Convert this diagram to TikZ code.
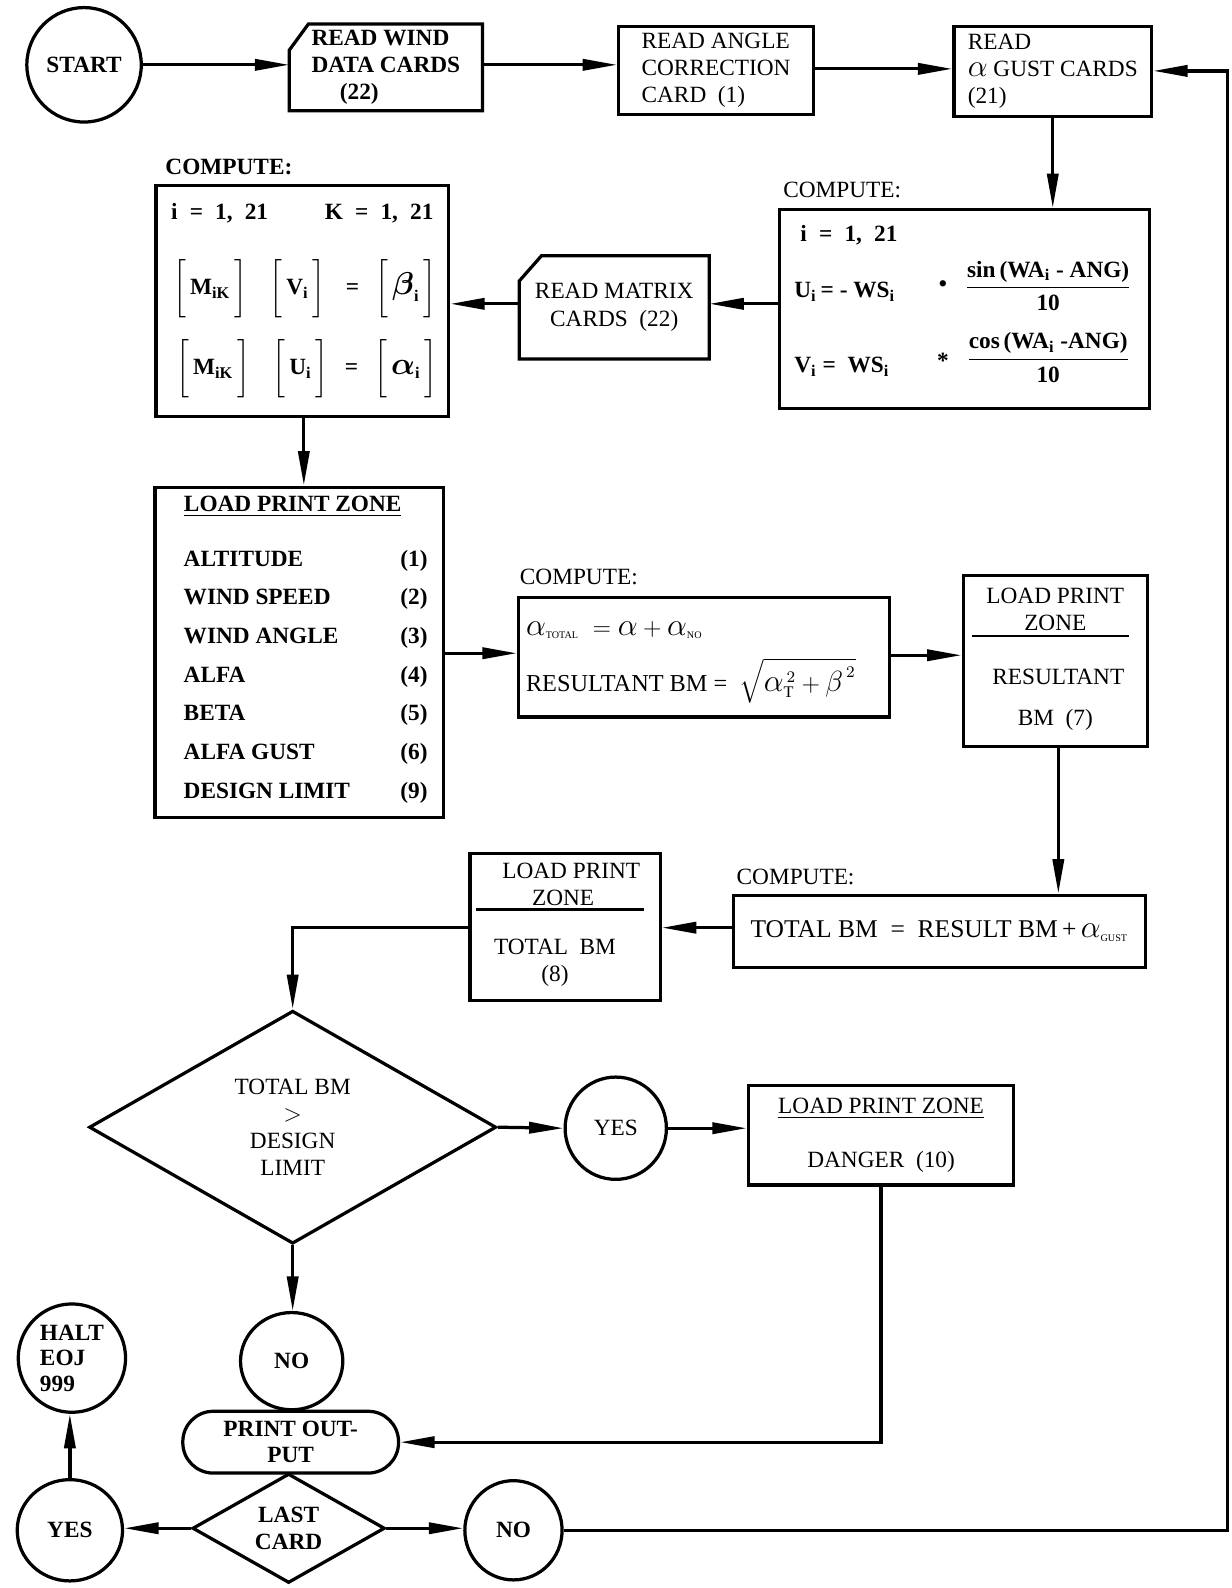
\documentclass[tikz,border=0pt]{standalone}
\usepackage{fontspec}
\setmainfont{Liberation Serif}
\usepackage{amsmath}
\usepackage{graphicx}
\usetikzlibrary{arrows.meta,shapes.geometric,calc}
\newcommand{\fsz}{\fontsize{11.5pt}{13.5pt}\selectfont}
\newcommand{\mbr}[1]{\left[\vrule height 15pt depth 10pt width 0pt\,#1\,\right]}
\newcommand{\al}{\text{\scalebox{1.3}{$\alpha$}}}
\newcommand{\bal}{\text{\scalebox{1.3}{$\boldsymbol{\alpha}$}}}
\newcommand{\bbe}{\text{\scalebox{1.3}{$\boldsymbol{\beta}$}}}
\newcommand{\be}{\text{\scalebox{1.2}{$\beta$}}}
\begin{document}
\begin{tikzpicture}[x=0.5pt,y=-0.5pt,
  every node/.style={font=\fsz, inner sep=0pt},
  box/.style={draw, line width=1.6pt, rectangle},
  term/.style={draw, line width=1.6pt, ellipse, inner sep=-8pt},
  dec/.style={draw, line width=1.6pt, diamond, shape aspect=1.8},
  arr/.style={line width=1.6pt, -{Triangle[length=17pt,width=5.5pt]}},
  ln/.style={line width=1.6pt},
  rule/.style={line width=1.1pt},
  lbl/.style={anchor=west},
]
\useasboundingbox (0,0) rectangle (1216,1568);

% ---------- top row ----------
\node[term, minimum width=56.5pt, minimum height=56.5pt, font=\fsz\bfseries] (start) at (83,64) {START};

\node[minimum width=95pt, minimum height=42.5pt, align=left, font=\fsz\bfseries] (card1) at (381,66.5) {READ WIND\\DATA CARDS\\\hspace*{14pt}(22)};
\draw[ln] ($(card1.north west)+(19,0)$) -- (card1.north east) -- (card1.south east) -- (card1.south west) -- ($(card1.north west)+(0,26)$) -- cycle;

\node[box, minimum width=96pt, minimum height=43.5pt, align=left] (box2) at (707,69.5) {READ ANGLE\\CORRECTION\\CARD~~(1)};

\node[box, minimum width=97.5pt, minimum height=44.5pt, align=left] (box3) at (1039.5,70.5) {READ\\$\al$ GUST CARDS\\(21)};

% ---------- right compute ----------
\node[lbl] (c1lbl) at (773,188) {COMPUTE:};
\node[box, minimum width=182.5pt, minimum height=98pt] (comp1) at (952.5,305) {};
\node[lbl, font=\fsz\bfseries] (c1a) at (790,232) {i\hspace{6pt}=\hspace{6pt}1,\hspace{6pt}21};
\node[lbl, font=\fsz\bfseries] (c1b) at (784,288) {U\textsubscript{i}\,=~-~WS\textsubscript{i}};
\node[font=\fsz\bfseries] (c1c) at (931,282) {\textbullet};
\node[font=\fsz\bfseries] (c1d) at (1035,282) {$\dfrac{\text{sin\,(WA\textsubscript{i} - ANG)}}{\text{10}}$};
\node[lbl, font=\fsz\bfseries] (c1e) at (784,362) {V\textsubscript{i}~=~~WS\textsubscript{i}};
\node[font=\fsz\bfseries] (c1f) at (931,356) {*};
\node[font=\fsz\bfseries] (c1g) at (1035,353) {$\dfrac{\text{cos\,(WA\textsubscript{i} -ANG)}}{\text{10}}$};

% ---------- read matrix ----------
\node[minimum width=93.5pt, minimum height=50.5pt, align=center] (card2) at (606.5,303.5) {READ MATRIX\\CARDS~~(22)};
\draw[ln] ($(card2.north west)+(22,0)$) -- (card2.north east) -- (card2.south east) -- (card2.south west) -- ($(card2.north west)+(0,25)$) -- cycle;

% ---------- left compute ----------
\node[lbl, font=\fsz\bfseries] (c0lbl) at (163,165) {COMPUTE:};
\node[box, minimum width=144.5pt, minimum height=114pt] (comp0) at (298.5,297) {};
\node[font=\fsz\bfseries] (c0a) at (298.5,211) {i\hspace{6pt}=\hspace{6pt}1,\hspace{6pt}21\hspace{28pt}K\hspace{6pt}=\hspace{6pt}1,\hspace{6pt}21};
\node[font=\fsz\bfseries] (c0b) at (301,285) {$\mbr{\text{M}_{\text{iK}}}\hspace{9pt}\mbr{\text{V}_{\text{i}}}\hspace{8pt}\text{=}\hspace{6pt}\mbr{\bbe_{\text{i}}}$};
\node[font=\fsz\bfseries] (c0c) at (303,364) {$\mbr{\text{M}_{\text{iK}}}\hspace{9pt}\mbr{\text{U}_{\text{i}}}\hspace{6pt}\text{=}\hspace{6pt}\mbr{\bal_{\text{i}}}$};

% ---------- load print zone (left) ----------
\node[box, minimum width=142.5pt, minimum height=163pt] (lpz1) at (295.5,644) {};
\node[font=\fsz\bfseries] (l1h) at (289,500) {\underline{LOAD PRINT ZONE}};
\node[anchor=west, align=left, font=\fontsize{11.5pt}{19.1pt}\selectfont\bfseries] (l1list) at (181,668) {%
\makebox[107pt][l]{ALTITUDE}(1)\\
\makebox[107pt][l]{WIND SPEED}(2)\\
\makebox[107pt][l]{WIND ANGLE}(3)\\
\makebox[107pt][l]{ALFA}(4)\\
\makebox[107pt][l]{BETA}(5)\\
\makebox[107pt][l]{ALFA GUST}(6)\\
\makebox[107pt][l]{DESIGN LIMIT}(9)};

% ---------- middle compute ----------
\node[lbl] (c2lbl) at (513,570) {COMPUTE:};
\node[box, minimum width=183pt, minimum height=59pt] (comp2) at (695,649) {};
\node[lbl] (c2a) at (519,622) {$\al_{\text{\tiny TOTAL}}\;=\al+\al_{\text{\tiny NO}}$};
\node[lbl, font=\fontsize{12pt}{14pt}\selectfont] (c2b) at (519,672) {RESULTANT BM =~~$\sqrt{\al_{\text{T}}^{\,2}+\be^{\,2}}$};

% ---------- load print zone resultant ----------
\node[box, minimum width=91pt, minimum height=84.5pt] (lpz2) at (1042,652.5) {};
\node[align=center] (l2a) at (1042,601.5) {LOAD PRINT\\ZONE};
\draw[rule] (960,628) -- (1115,628);
\node (l2c) at (1045,668) {RESULTANT};
\node (l2d) at (1042,711) {BM~~(7)};

% ---------- total BM compute ----------
\node[lbl] (c3lbl) at (727,866) {COMPUTE:};
\node[box, minimum width=203.5pt, minimum height=35.5pt, font=\fontsize{12.6pt}{14pt}\selectfont] (comp3) at (927.5,919.5) {TOTAL BM~~=~~RESULT BM\,+\,$\al_{\text{\tiny GUST}}$};

% ---------- load print zone total ----------
\node[box, minimum width=94pt, minimum height=72.5pt] (lpz3) at (558,915.5) {};
\node[align=center] (l3a) at (556,873.5) {\hspace*{8pt}LOAD PRINT\\ZONE};
\draw[rule] (470,898) -- (636,898);
\node[align=center] (l3b) at (548,950.5) {TOTAL~~BM\\(8)};

% ---------- decision ----------
\node[dec, minimum width=201pt, minimum height=115pt, align=center, font=\fontsize{11.5pt}{13.4pt}\selectfont] (dia1) at (289,1113) {TOTAL BM\\$>$\\DESIGN\\LIMIT};
\node[term, minimum width=50pt, minimum height=50.5pt] (yes1) at (608,1114) {YES};
\node[box, minimum width=131pt, minimum height=49pt, align=center, font=\fontsize{11.5pt}{26.5pt}\selectfont] (lpz4) at (870,1121) {\underline{LOAD PRINT ZONE}\\DANGER~~(10)};

% ---------- bottom ----------
\node[term, minimum width=50.5pt, minimum height=48pt, font=\fsz\bfseries] (no1) at (288,1344) {NO};
\node[draw, line width=1.6pt, rounded corners=15pt, minimum width=106.5pt, minimum height=30.5pt, align=center, font=\fontsize{11.5pt}{13pt}\selectfont\bfseries] (pout) at (287,1424) {PRINT OUT-\\PUT};
\node[dec, minimum width=95pt, minimum height=54pt, align=center, font=\fontsize{11.5pt}{13.5pt}\selectfont\bfseries] (dia2) at (285,1509) {LAST\\CARD};
\node[term, minimum width=52pt, minimum height=50pt, font=\fsz\bfseries] (yes2) at (69,1511) {YES};
\node[term, minimum width=53pt, minimum height=53.5pt, align=left, font=\fontsize{11.5pt}{12.5pt}\selectfont\bfseries] (halt) at (71,1341) {HALT\\EOJ\\999};
\node[term, minimum width=48pt, minimum height=49pt, font=\fsz\bfseries] (no2) at (507,1511) {NO};
\coordinate (rt) at (1212,70);

% ---------- connectors ----------
\draw[arr] (start.east) -- (start.east -| card1.west);
\draw[arr] (card1.east |- 0,64) -- (box2.west |- 0,64);
\draw[arr] (box2.east |- 0,68) -- (box3.west |- 0,68);
\draw[arr] (box3.south) -- (box3.south |- comp1.north);
\draw[arr] (comp1.west |- 0,300) -- (card2.east |- 0,300);
\draw[arr] (card2.west |- 0,300) -- (comp0.east |- 0,300);
\draw[arr] (comp0.south -| 300,0) -- (lpz1.north -| 300,0);
\draw[arr] (lpz1.east |- 0,645) -- (comp2.west |- 0,645);
\draw[arr] (comp2.east |- 0,647) -- (lpz2.west |- 0,647);
\draw[arr] (lpz2.south -| 1045,0) -- (comp3.north -| 1045,0);
\draw[arr] (comp3.west |- 0,916) -- (lpz3.east |- 0,916);
\draw[arr] (lpz3.west |- 0,916) -| (dia1.north);
\draw[arr] (dia1.east) -- (yes1.west);
\draw[arr] (yes1.east) -- (yes1.east -| lpz4.west);
\draw[arr] (lpz4.south) |- (pout.east);
\draw[arr] (dia1.south) -- (dia1.south |- no1.north);
\draw[arr] (dia2.west) -- (dia2.west -| yes2.east);
\draw[arr] (yes2.north) -- (yes2.north |- halt.south);
\draw[arr] (dia2.east) -- (dia2.east -| no2.west);
\draw[arr] (no2.east) -| (rt) -- (rt -| box3.east);
\end{tikzpicture}
\end{document}
